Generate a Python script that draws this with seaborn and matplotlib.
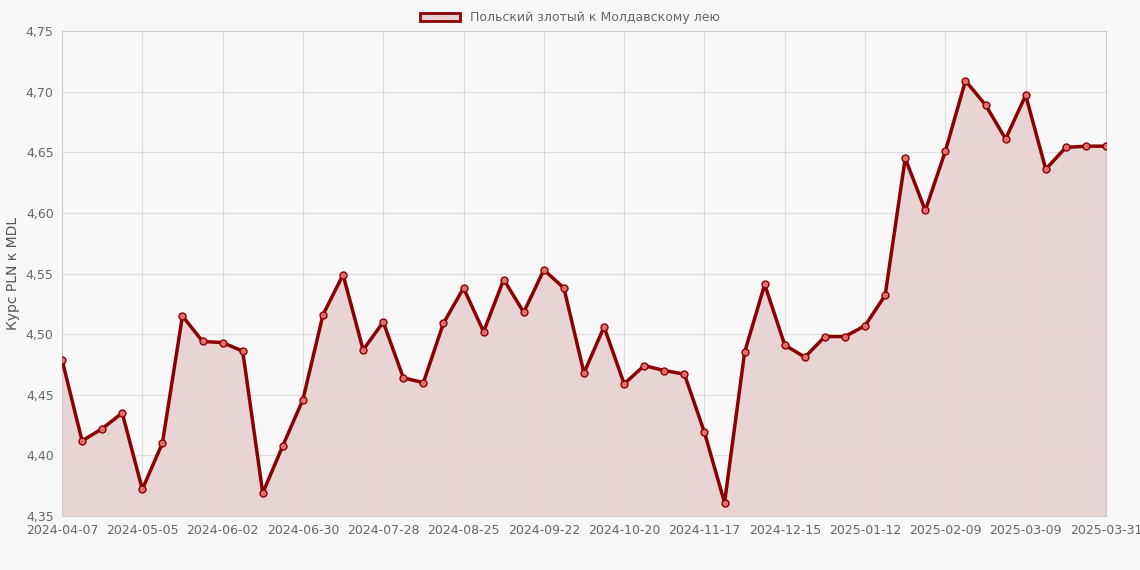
import matplotlib
matplotlib.use("Agg")
import matplotlib.pyplot as plt
import seaborn as sns
import pandas as pd
from matplotlib.patches import Patch
from matplotlib.ticker import FuncFormatter

values = [4.479,4.412,4.422,4.435,4.372,4.410,4.515,4.494,4.493,4.486,4.369,4.408,4.446,
          4.516,4.549,4.487,4.510,4.464,4.460,4.509,4.538,4.502,4.545,4.518,4.553,4.538,
          4.468,4.506,4.459,4.474,4.470,4.467,4.419,4.361,4.485,4.541,4.491,4.481,4.498,
          4.498,4.507,4.532,4.645,4.602,4.651,4.709,4.689,4.661,4.697,4.636,4.654,4.655,4.655]
tick_labels = ["2024-04-07","2024-05-05","2024-06-02","2024-06-30","2024-07-28","2024-08-25",
               "2024-09-22","2024-10-20","2024-11-17","2024-12-15","2025-01-12","2025-02-09",
               "2025-03-09","2025-03-31"]
series_name = "Польский злотый к Молдавскому лею"

df = pd.DataFrame({"i": range(len(values)), "v": values})
sns.set_style("whitegrid")
plt.rcParams['font.family'] = ['DejaVu Sans']
fig = plt.figure(figsize=(11.4, 5.7), dpi=100, facecolor="#f8f8f8")
ax = fig.add_axes([62/1140, 1-516/570, (1106-62)/1140, (516-31)/570])
ax.set_facecolor("#f8f8f8")
line = "#8b0000"
ax.fill_between(df["i"], df["v"], 4.35, color="#e8d0d0", alpha=0.9, zorder=1)
sns.lineplot(data=df, x="i", y="v", ax=ax, color=line, lw=2.5, zorder=3,
             marker="o", markersize=5, markerfacecolor="#e07070", markeredgecolor=line, markeredgewidth=1)
ax.set_xlim(0, len(values)-1)
ax.set_ylim(4.35, 4.75)
ticks = list(range(0, len(values)-1, 4)) + [len(values)-1]
ax.set_xticks(ticks)
ax.set_xticklabels(tick_labels)
ax.set_yticks([4.35+0.05*k for k in range(9)])
ax.yaxis.set_major_formatter(FuncFormatter(lambda v, p: f"{v:.2f}".replace(".", ",")))
ax.tick_params(labelsize=9, colors="#666666", length=0, pad=6)
ax.grid(color="#dddddd", lw=0.8)
for s in ax.spines.values():
    s.set_color("#cccccc"); s.set_linewidth(0.8)
ax.set_xlabel("")
ax.set_ylabel("Курс PLN к MDL", color="#555555", fontsize=10)
leg = fig.legend(handles=[Patch(facecolor="#e8d0d0", edgecolor=line, lw=2, label=series_name)],
                 loc="upper center", bbox_to_anchor=(0.5, 1.0), frameon=False, fontsize=9,
                 handlelength=3.2, labelcolor="#666666")
fig.savefig("out.png", dpi=100, facecolor=fig.get_facecolor())
